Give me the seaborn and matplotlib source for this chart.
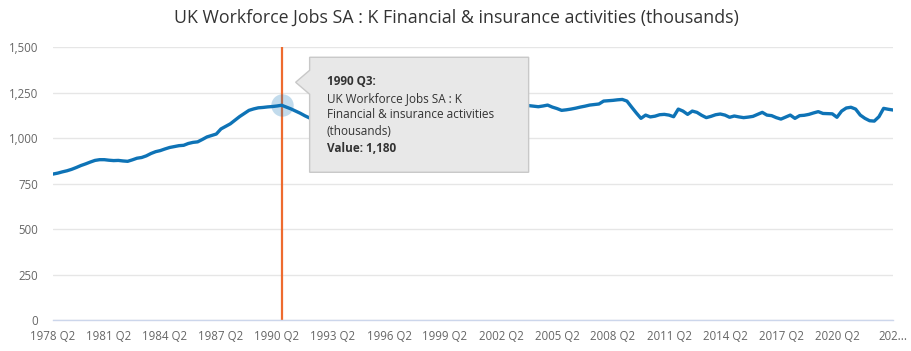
import numpy as np
import pandas as pd
import matplotlib.pyplot as plt
import matplotlib.patches as mpatches
from matplotlib.transforms import IdentityTransform
import seaborn as sns

# quarterly values, thousands, 1978 Q2 .. 2023 Q2
jobs_1978_1991 = [802, 807, 814,
                  820, 828, 838, 849,
                  858, 868, 877, 881,
                  881, 878, 876, 877,
                  874, 872, 880, 889,
                  893, 902, 915, 925,
                  931, 940, 948, 953,
                  958, 960, 970, 976,
                  979, 992, 1006, 1014,
                  1022, 1050, 1064, 1078,
                  1098, 1118, 1135, 1152,
                  1160, 1166, 1168, 1171,
                  1173, 1176, 1180, 1170,
                  1160, 1148, 1136, 1122]
jobs_1992_2003 = [1110, 1100, 1092, 1085,
                  1078, 1072, 1068, 1065,
                  1062, 1058, 1060, 1063,
                  1066, 1070, 1074, 1078,
                  1082, 1088, 1094, 1100,
                  1106, 1112, 1118, 1124,
                  1130, 1136, 1140, 1145,
                  1150, 1155, 1160, 1164,
                  1168, 1172, 1176, 1180,
                  1184, 1188, 1190, 1188,
                  1186, 1184, 1182, 1180,
                  1178, 1176, 1177, 1178]
jobs_2004_2023 = [1175, 1172, 1176, 1181,
                  1170, 1162, 1152, 1155,
                  1159, 1164, 1170, 1175,
                  1181, 1184, 1187, 1203,
                  1205, 1207, 1210, 1212,
                  1203, 1170, 1138, 1108,
                  1126, 1116, 1120, 1128,
                  1130, 1126, 1117, 1159,
                  1148, 1130, 1148, 1141,
                  1125, 1112, 1119, 1128,
                  1132, 1126, 1114, 1121,
                  1116, 1112, 1115, 1119,
                  1130, 1141, 1126, 1123,
                  1112, 1104, 1115, 1126,
                  1108, 1123, 1125, 1130,
                  1138, 1145, 1135, 1134,
                  1133, 1114, 1148, 1165,
                  1169, 1159, 1126, 1108,
                  1095, 1093, 1117, 1163,
                  1158, 1154]

jobs = jobs_1978_1991 + jobs_1992_2003 + jobs_2004_2023
quarters = []
y, q = 1978, 2
for _ in jobs:
    quarters.append(f"{y} Q{q}")
    q += 1
    if q > 4:
        q, y = 1, y + 1

tick_labels = [quarters[i] for i in range(0, len(jobs), 12)]
tick_labels[-1] = "202..."
y_ticks = [0, 250, 500, 750, 1000, 1250, 1500]

hover = "1990 Q3"
df = pd.DataFrame({"idx": np.arange(len(jobs)), "quarter": quarters, "jobs": jobs})
hi = df.index[df["quarter"] == hover][0]

sns.set_theme(style="white")
plt.rcParams['font.family'] = ['Open Sans', 'DejaVu Sans']

fig = plt.figure(figsize=(9.12, 3.51), dpi=100)
ax = fig.add_axes([0.0581, 0.0883, 0.921, 0.7777])

ax.axvline(hi, color="#ee6b2f", lw=1.6, zorder=1)
sns.lineplot(data=df, x="idx", y="jobs", color="#0e73b6", lw=2.4, ax=ax, zorder=3)
ax.scatter([hi], [df["jobs"][hi]], s=260, color="#0e73b6", alpha=0.25, lw=0, zorder=4)

ax.set_xlim(0, len(jobs) - 1)
ax.set_ylim(0, 1500)
ax.set_xticks(range(0, len(jobs), 12))
ax.set_xticklabels(tick_labels)
ax.set_yticks(y_ticks)
ax.set_yticklabels([f"{v:,}" for v in y_ticks])
ax.set_xlabel("")
ax.set_ylabel("")
ax.grid(axis="y", color="#e6e6e6", lw=1)
ax.set_axisbelow(True)
for s in ["top", "right", "left"]:
    ax.spines[s].set_visible(False)
ax.spines["bottom"].set_color("#ccd6eb")
ax.spines["bottom"].set_linewidth(1)
ax.tick_params(axis="x", colors="#ccd6eb", length=6, width=1, direction="out", pad=1.5,
               labelcolor="#666666", labelsize=8.3)
ax.tick_params(axis="y", length=0, labelcolor="#666666", labelsize=8.3, pad=10.5)

fig.suptitle("UK Workforce Jobs SA : K Financial & insurance activities (thousands)",
             y=0.975, fontsize=12.8, color="#333333")

# tooltip anchored to the hovered point
fig.canvas.draw()
px, py = ax.transData.transform((hi, df["jobs"][hi]))
box = [(28, 48), (247, 48), (247, -67), (28, -67), (28, 11), (14, 23), (28, 35)]
tip = mpatches.Polygon([(px + a, py + b) for a, b in box], closed=True,
                       transform=IdentityTransform(), facecolor="#e8e8e8",
                       edgecolor="#c8c8c8", lw=1, zorder=10)
fig.patches.append(tip)
lines = [(f"{hover}:", "bold", 24), ("UK Workforce Jobs SA : K", "normal", 7),
         ("Financial & insurance activities", "normal", -9.5), ("(thousands)", "normal", -26),
         (f"Value: {df['jobs'][hi]:,}", "bold", -43)]
for txt, wt, dy in lines:
    fig.text(px + 45, py + dy, txt, transform=IdentityTransform(), fontsize=8.5,
             fontweight=wt, color="#333333", va="center", ha="left", zorder=11)

fig.savefig("out.png", dpi=100)
